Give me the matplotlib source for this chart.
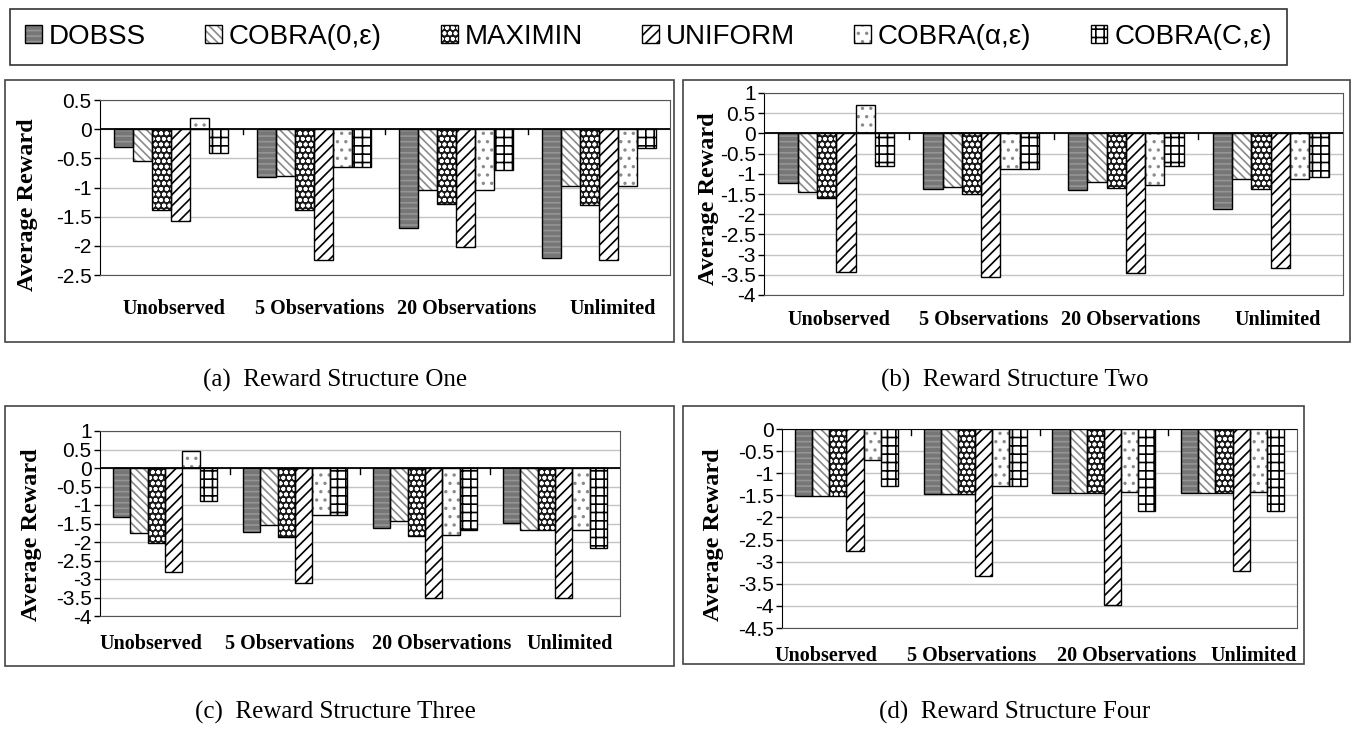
import numpy as np
import matplotlib
matplotlib.use("Agg")
import matplotlib.pyplot as plt
from matplotlib.patches import Rectangle
from matplotlib.legend_handler import HandlerTuple

# data
categories = ["Unobserved", "5 Observations", "20 Observations", "Unlimited"]
methods = ["DOBSS", "COBRA(0,ε)", "MAXIMIN", "UNIFORM", "COBRA(α,ε)", "COBRA(C,ε)"]

# rows = methods, columns = categories
reward_one = [
    [-0.30, -0.82, -1.70, -2.20],
    [-0.55, -0.80, -1.05, -0.97],
    [-1.38, -1.38, -1.28, -1.30],
    [-1.57, -2.25, -2.02, -2.24],
    [0.20, -0.65, -1.05, -0.97],
    [-0.40, -0.65, -0.70, -0.33],
]
reward_two = [
    [-1.23, -1.38, -1.40, -1.87],
    [-1.46, -1.33, -1.20, -1.12],
    [-1.60, -1.50, -1.35, -1.38],
    [-3.43, -3.55, -3.45, -3.33],
    [0.70, -0.88, -1.28, -1.12],
    [-0.80, -0.88, -0.80, -1.08],
]
reward_three = [
    [-1.33, -1.72, -1.62, -1.48],
    [-1.77, -1.53, -1.42, -1.67],
    [-2.02, -1.87, -1.83, -1.68],
    [-2.80, -3.10, -3.52, -3.52],
    [0.45, -1.28, -1.80, -1.67],
    [-0.90, -1.28, -1.68, -2.17],
]
reward_four = [
    [-1.52, -1.48, -1.45, -1.45],
    [-1.52, -1.48, -1.45, -1.45],
    [-1.52, -1.48, -1.45, -1.45],
    [-2.75, -3.32, -3.98, -3.20],
    [-0.70, -1.28, -1.43, -1.43],
    [-1.30, -1.28, -1.86, -1.85],
]

# fill colour, hatch, hatch colour
styles = [
    ("#767676", "---", "#959595"),
    ("white", "\\\\\\\\", "#8a8a8a"),
    ("#1a1a1a", "ooo", "white"),
    ("white", "///", "black"),
    ("white", "..", "#8a8a8a"),
    ("white", "++", "black"),
]

W, H = 1354, 729
plt.rcParams["hatch.linewidth"] = 1.2
fig = plt.figure(figsize=(W / 100, H / 100), dpi=100)

sans = "Liberation Sans"
serif = "Liberation Serif"


def px_axes(x0, y0, x1, y1):
    return fig.add_axes([x0 / W, 1 - y1 / H, (x1 - x0) / W, (y1 - y0) / H])


def box(x0, y0, x1, y1, lw=1.2, color="#444444"):
    fig.patches.append(Rectangle((x0 / W, 1 - y1 / H), (x1 - x0) / W, (y1 - y0) / H,
                                 transform=fig.transFigure, fill=False,
                                 edgecolor=color, linewidth=lw))


def panel(rect, data, ylim, label_x, label_pad, ylab_pos):
    ax = px_axes(*rect)
    x = np.arange(len(categories))
    group = 0.8
    bw = group / len(methods)
    handles = []
    for i, (name, vals) in enumerate(zip(methods, data)):
        fc, hatch, hc = styles[i]
        pos = x - group / 2 + bw * (i + 0.5)
        b1 = ax.bar(pos, vals, bw, color=fc, hatch=hatch, edgecolor=hc, linewidth=0, zorder=3)
        b2 = ax.bar(pos, vals, bw, fill=False, edgecolor="black", linewidth=1.0, zorder=4)
        handles.append((b1[0], b2[0]))
    ax.set_xlim(-0.5, len(categories) - 0.5)
    ax.set_ylim(*ylim)
    ticks = np.arange(ylim[0], ylim[1] + 0.25, 0.5)
    ax.set_yticks(ticks)
    ax.set_yticklabels([("%g" % t) for t in ticks], fontfamily=sans, fontsize=15)
    ax.grid(axis="y", color="#c4c4c4", linewidth=1.0, zorder=0)
    ax.axhline(0, color="black", linewidth=1.3, zorder=5)
    for b in x[:-1] + 0.5:
        ax.plot([b, b], [0, -(ylim[1] - ylim[0]) * 0.03], color="black", linewidth=1.0, zorder=5)
    # category names sit where the original placed them, not exactly under each group
    ax.set_xticks(label_x)
    ax.set_xticklabels(categories, fontfamily=serif, fontweight="bold", fontsize=14.5)
    ax.tick_params(axis="x", length=0, pad=label_pad)
    ax.tick_params(axis="y", length=4, width=1, pad=2)
    for s in ["top", "right", "bottom"]:
        ax.spines[s].set_color("#555555")
    ax.spines["left"].set_color("black")
    ax.set_ylabel("Average Reward", fontfamily=serif, fontweight="bold", fontsize=17.5)
    ax.yaxis.set_label_coords(*ylab_pos)
    return handles


# (a)
box(5, 80, 674, 342)
handles = panel((100, 100, 670, 275), reward_one, (-2.5, 0.5),
                [0.02, 1.04, 2.07, 3.1], 17, (-0.108, 0.40))
fig.text(335 / W, 1 - 380 / H, "(a)  Reward Structure One", fontfamily=serif, fontsize=18,
         ha="center", va="center")

# (b)
box(683, 80, 1350, 342)
panel((764, 93, 1343, 295), reward_two, (-4, 1),
      [0.02, 1.02, 2.03, 3.05], 11, (-0.078, 0.475))
fig.text(1015 / W, 1 - 380 / H, "(b)  Reward Structure Two", fontfamily=serif, fontsize=18,
         ha="center", va="center")

# (c)
box(5, 406, 674, 666)
panel((100, 431, 620, 616), reward_three, (-4, 1),
      [-0.11, 0.96, 2.13, 3.11], 13, (-0.112, 0.44))
fig.text(335 / W, 1 - 712 / H, "(c)  Reward Structure Three", fontfamily=serif, fontsize=18,
         ha="center", va="center")

# (d)
box(683, 406, 1304, 664)
panel((782, 429, 1297, 628), reward_four, (-4.5, 0),
      [-0.16, 0.97, 2.18, 3.16], 13, (-0.113, 0.47))
fig.text(1015 / W, 1 - 712 / H, "(d)  Reward Structure Four", fontfamily=serif, fontsize=18,
         ha="center", va="center")

# legend across the top
leg = fig.legend(handles, methods, handler_map={tuple: HandlerTuple(ndivide=1, pad=0)},
                 loc="center", bbox_to_anchor=(10 / W, 1 - 70 / H, 1277 / W, 66 / H),
                 ncol=6, mode="expand", frameon=True, fancybox=False,
                 prop={"family": sans, "size": 20}, handlelength=0.6, handleheight=0.6,
                 handletextpad=0.25, borderaxespad=0, borderpad=0.55)
leg.get_frame().set_edgecolor("black")
leg.get_frame().set_linewidth(1.2)

fig.savefig("out.png", dpi=100)
